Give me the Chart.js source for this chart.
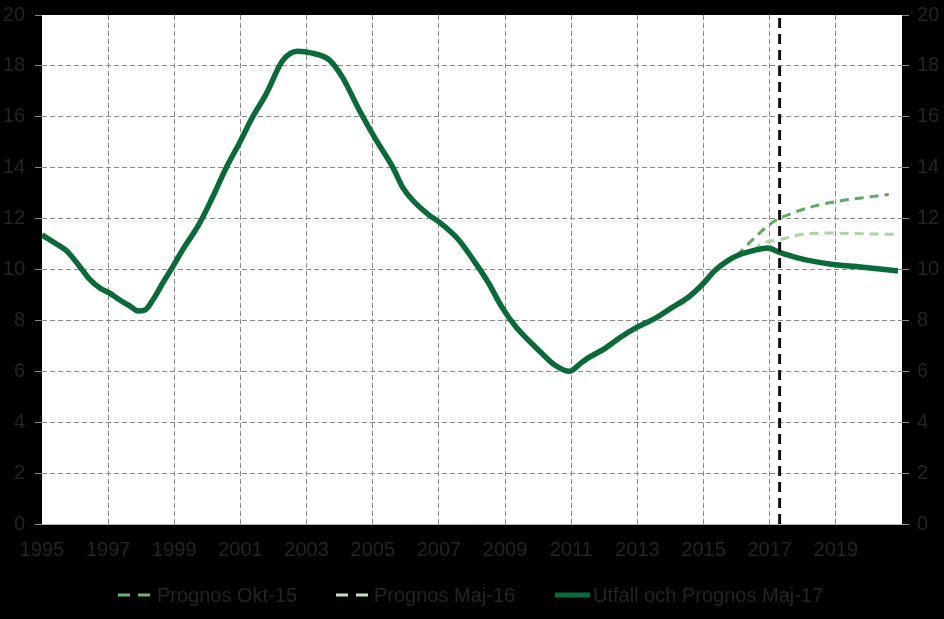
<!DOCTYPE html>
<html>
<head>
<meta charset="utf-8">
<script src="https://cdn.jsdelivr.net/npm/chart.js@4/dist/chart.umd.min.js"></script>
<style>
  html, body { margin: 0; padding: 0; background: #000; }
  #wrap { position: relative; width: 944px; height: 619px; }
  #legend { position: absolute; left: 0; top: 582px; width: 944px; height: 26px;
    font-family: "Liberation Sans", Arial, sans-serif; font-size: 20px; color: #242424; }
  .item { position: absolute; top: 0; height: 26px; line-height: 26px; white-space: nowrap; }
  .item svg { position: absolute; top: 0; }
  .item span { position: absolute; top: 0; }
</style>
</head>
<body>
<div id="wrap">
  <canvas id="c" width="944" height="619"></canvas>
  <div id="legend">
    <div class="item" style="left:118px">
      <svg width="35" height="26"><line x1="0" y1="13" x2="34" y2="13" stroke="#6cb46c" stroke-width="3" stroke-dasharray="12,8"/></svg>
      <span style="left:39px">Prognos Okt-15</span>
    </div>
    <div class="item" style="left:336px">
      <svg width="35" height="26"><line x1="0" y1="13" x2="34" y2="13" stroke="#c5e4bc" stroke-width="3" stroke-dasharray="12,8"/></svg>
      <span style="left:38px">Prognos Maj-16</span>
    </div>
    <div class="item" style="left:555px">
      <svg width="36" height="26"><line x1="0" y1="13" x2="35" y2="13" stroke="#0b6b38" stroke-width="5"/></svg>
      <span style="left:38px">Utfall och Prognos Maj-17</span>
    </div>
  </div>
</div>
<script>
var mainYears = [1995.0, 1995.5, 1995.75, 1996.15, 1996.45, 1996.75, 1997.05, 1997.35, 1997.65, 1997.9,
  1998.1, 1998.35, 1998.65, 1998.95, 1999.25, 1999.77, 2000.16, 2000.58, 2000.97, 2001.37,
  2001.78, 2002.27, 2002.72, 2003.17, 2003.69, 2004.08, 2004.59, 2005.1, 2005.6, 2005.9,
  2006.2, 2006.7, 2007.0, 2007.6, 2008.1, 2008.5, 2008.9, 2009.33, 2009.7, 2010.1,
  2010.5, 2010.95, 2011.3, 2011.5, 2011.75, 2012.0, 2012.5, 2012.94, 2013.55, 2014.03,
  2014.55, 2014.95, 2015.36, 2015.76, 2016.06, 2016.36, 2016.96, 2017.26, 2017.87, 2018.86,
  2019.89, 2020.88];
var mainValues = [11.36, 10.95, 10.73, 10.1, 9.6, 9.27, 9.07, 8.8, 8.57, 8.37,
  8.4, 8.8, 9.47, 10.1, 10.77, 11.83, 12.85, 14.03, 14.97, 16.0,
  16.9, 18.2, 18.58, 18.5, 18.23, 17.56, 16.27, 15.09, 14.03, 13.24,
  12.73, 12.14, 11.87, 11.16, 10.26, 9.47, 8.53, 7.74, 7.23, 6.72,
  6.25, 6.0, 6.33, 6.52, 6.7, 6.88, 7.35, 7.7, 8.09, 8.49,
  8.92, 9.39, 9.98, 10.37, 10.57, 10.69, 10.84, 10.69, 10.45, 10.21,
  10.08, 9.94];

var okt15Years = [2016.0, 2016.57, 2017.06, 2017.78, 2018.47, 2019.29, 2020.0, 2020.6];
var okt15Values = [10.55, 11.28, 11.83, 12.26, 12.53, 12.73, 12.85, 12.95];

var maj16Years = [2016.5, 2016.8, 2017.26, 2018.07, 2018.86, 2019.89, 2020.88];
var maj16Values = [10.75, 11.04, 11.16, 11.4, 11.43, 11.4, 11.38];

var cutYear = 2017.3;
var yTicks = [0, 2, 4, 6, 8, 10, 12, 14, 16, 18, 20];

function pts(xs, ys) {
  return xs.map(function(x, i) { return { x: x, y: ys[i] }; });
}

var textColor = '#242424';
var gridColor = '#8a8a8a';
var font = { family: '"Liberation Sans", Arial, sans-serif', size: 20 };

// black page, white plot area
var plotBg = {
  id: 'plotBg',
  beforeDraw: function(chart) {
    var a = chart.chartArea, ctx = chart.ctx;
    ctx.save();
    ctx.fillStyle = '#000';
    ctx.fillRect(0, 0, chart.width, chart.height);
    ctx.fillStyle = '#fff';
    ctx.fillRect(a.left, a.top, a.right - a.left, a.bottom - a.top);
    ctx.restore();
  }
};

function hideEdges(lo, hi) {
  return function(c) {
    var v = c.tick ? c.tick.value : null;
    return (v === lo || v === hi) ? 'rgba(0,0,0,0)' : gridColor;
  };
}

function fixY(s) {
  s.width = 42;
  s.paddingTop = 0;
  s.paddingBottom = 0;
}

new Chart(document.getElementById('c'), {
  type: 'line',
  data: {
    datasets: [
      {
        label: 'cut',
        data: [{ x: cutYear, y: 0 }, { x: cutYear, y: 20 }],
        borderColor: '#111',
        borderWidth: 3,
        borderDash: [10, 6],
        pointRadius: 0
      },
      {
        label: 'Utfall och Prognos Maj-17',
        data: pts(mainYears, mainValues),
        borderColor: '#0b6b38',
        borderWidth: 5.5,
        pointRadius: 0,
        cubicInterpolationMode: 'monotone'
      },
      {
        label: 'Prognos Okt-15',
        data: pts(okt15Years, okt15Values),
        borderColor: '#5fa85f',
        borderWidth: 3,
        borderDash: [9, 6],
        pointRadius: 0,
        cubicInterpolationMode: 'monotone'
      },
      {
        label: 'Prognos Maj-16',
        data: pts(maj16Years, maj16Values),
        borderColor: '#acd6a0',
        borderWidth: 3,
        borderDash: [9, 6],
        pointRadius: 0,
        cubicInterpolationMode: 'monotone'
      }
    ]
  },
  options: {
    responsive: false,
    animation: false,
    layout: { padding: { top: 15 } },
    plugins: { legend: { display: false }, tooltip: { enabled: false } },
    scales: {
      x: {
        type: 'linear',
        min: 1995,
        max: 2021,
        afterFit: function(s) { s.height = 95; s.paddingLeft = 0; s.paddingRight = 0; },
        ticks: {
          stepSize: 2,
          color: textColor,
          font: font,
          padding: 14,
          maxRotation: 0,
          autoSkip: false,
          callback: function(v) { return v >= 2021 ? null : String(v); }
        },
        grid: { drawTicks: false, color: hideEdges(1995, 2021), lineWidth: 1 },
        border: { display: true, color: '#b5b5b5', width: 1, dash: [5, 3] }
      },
      y: {
        position: 'left',
        min: 0,
        max: 20,
        afterFit: fixY,
        afterBuildTicks: function(s) { s.ticks = yTicks.map(function(v) { return { value: v }; }); },
        ticks: { color: textColor, font: font, padding: 10 },
        grid: {
          color: hideEdges(0, 20),
          tickColor: gridColor,
          tickLength: 7,
          tickBorderDash: []
        },
        border: { display: false, dash: [5, 3] }
      },
      y1: {
        position: 'right',
        min: 0,
        max: 20,
        afterFit: fixY,
        afterBuildTicks: function(s) { s.ticks = yTicks.map(function(v) { return { value: v }; }); },
        ticks: { color: textColor, font: font, padding: 8 },
        grid: { drawOnChartArea: false, tickColor: gridColor, tickLength: 7 },
        border: { display: false }
      }
    }
  },
  plugins: [plotBg]
});
</script>
</body>
</html>
